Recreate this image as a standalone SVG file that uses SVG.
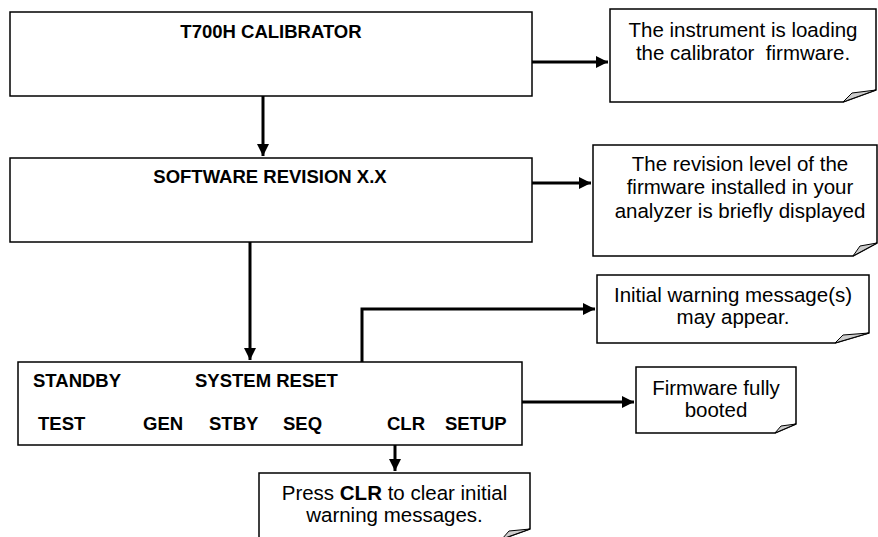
<svg xmlns="http://www.w3.org/2000/svg" width="878" height="537" viewBox="0 0 878 537">
<style>
.box{fill:#fff;stroke:#000;stroke-width:1.5}
.note{fill:#fff;stroke:#000;stroke-width:1.5}
.fold{fill:#ccc;stroke:#000;stroke-width:1}
.b{font-family:"Liberation Sans",Arial,sans-serif;font-weight:bold;font-size:18.5px;fill:#000}
.t{font-family:"Liberation Sans",Arial,sans-serif;font-size:20.5px;fill:#000;text-anchor:middle;white-space:pre}
.c{fill:none;stroke:#000;stroke-width:3}
</style>
<defs>
<marker id="ah" markerWidth="4" markerHeight="4" refX="4" refY="2" orient="auto" markerUnits="strokeWidth">
<path d="M0,0 L4,2 L0,4 Z" fill="#000"/>
</marker>
</defs>
<rect width="878" height="537" fill="#fff"/>
<g id="connectors">
<path class="c" d="M263,96 V156" marker-end="url(#ah)"/>
<path class="c" d="M532,62 H608" marker-end="url(#ah)"/>
<path class="c" d="M532,183 H591" marker-end="url(#ah)"/>
<path class="c" d="M250,242 V360" marker-end="url(#ah)"/>
<path class="c" d="M337,375 H362 V309 H595" marker-end="url(#ah)"/>
<path class="c" d="M473,402 H634" marker-end="url(#ah)"/>
<path class="c" d="M395,437 V471" marker-end="url(#ah)"/>
</g>
<g id="box-calibrator">
<rect class="box" x="10" y="12" width="522" height="84"/>
<text class="b" x="271" y="38" text-anchor="middle">T700H CALIBRATOR</text>
</g>
<g id="box-software">
<rect class="box" x="10" y="158" width="522" height="84"/>
<text class="b" x="270" y="182.5" text-anchor="middle">SOFTWARE REVISION X.X</text>
</g>
<g id="box-display">
<rect class="box" x="18" y="362" width="504" height="83"/>
<text class="b" x="33" y="387">STANDBY</text>
<text class="b" x="195" y="387">SYSTEM RESET</text>
<text class="b" x="38" y="430">TEST</text>
<text class="b" x="143" y="430">GEN</text>
<text class="b" x="209" y="430">STBY</text>
<text class="b" x="283" y="430">SEQ</text>
<text class="b" x="387" y="430">CLR</text>
<text class="b" x="445" y="430">SETUP</text>
</g>
<g id="note-loading">
<path class="note" d="M610,9 H876 V90 L843,102 H610 Z"/>
<path class="fold" d="M843,102 L852,93 L876,90 Z"/>
<text class="t" x="743" y="36.5">The instrument is loading</text>
<text class="t" x="743" y="60" xml:space="preserve">the calibrator  firmware.</text>
</g>
<g id="note-revision">
<path class="note" d="M593,145 H877 V243 L853,256 H593 Z"/>
<path class="fold" d="M853,256 L860,246 L877,243 Z"/>
<text class="t" x="740" y="170.5">The revision level of the</text>
<text class="t" x="740" y="194">firmware installed in your</text>
<text class="t" x="740" y="217.5">analyzer is briefly displayed</text>
</g>
<g id="note-warning">
<path class="note" d="M597,275 H869 V333 L835,343 H597 Z"/>
<path class="fold" d="M835,343 L843,335 L869,333 Z"/>
<text class="t" x="733" y="301.5">Initial warning message(s)</text>
<text class="t" x="733" y="324">may appear.</text>
</g>
<g id="note-booted">
<path class="note" d="M636,367 H796 V424 L775,433 H636 Z"/>
<path class="fold" d="M775,433 L781,426 L796,424 Z"/>
<text class="t" x="716" y="394.5" font-size="20">Firmware fully</text>
<text class="t" x="716" y="417" font-size="20">booted</text>
</g>
<g id="note-clr">
<path class="note" d="M259,473 H530 V529 L502,539 H259 Z"/>
<path class="fold" d="M502,539 L509,531 L530,529 Z"/>
<text class="t" x="394.5" y="499.5">Press <tspan font-weight="bold">CLR</tspan> to clear initial</text>
<text class="t" x="394.5" y="521.5">warning messages.</text>
</g>
</svg>
